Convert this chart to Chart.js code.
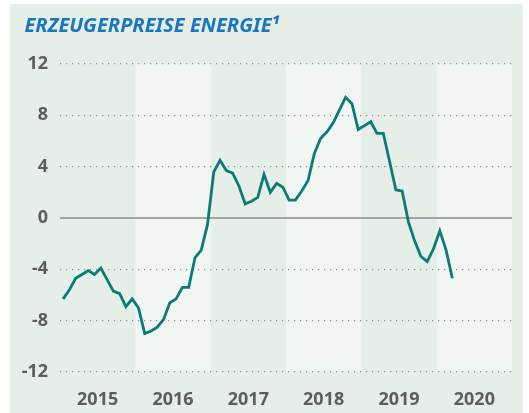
<!DOCTYPE html>
<html>
<head>
<meta charset="utf-8">
<script src="https://cdn.jsdelivr.net/npm/chart.js@4/dist/chart.umd.min.js"></script>
<style>
  html, body { margin: 0; padding: 0; background: #fff; }
  #panel {
    position: absolute; left: 10px; top: 4px;
    width: 513px; height: 409px;
    background: #e5efe8;
  }
</style>
</head>
<body>
<div id="panel"><canvas id="chart" width="513" height="409"></canvas></div>
<script>
// monthly change vs. previous year, Jan 2015 .. Mar 2020
const years = ['2015', '2016', '2017', '2018', '2019', '2020'];
const values2015 = [-6.3, -5.6, -4.7, -4.4, -4.1, -4.4, -3.9, -4.8, -5.7, -5.9, -6.9, -6.3];
const values2016 = [-7.0, -9.0, -8.8, -8.5, -7.9, -6.6, -6.3, -5.4, -5.4, -3.1, -2.5, -0.5];
const values2017 = [3.6, 4.5, 3.7, 3.5, 2.5, 1.1, 1.3, 1.6, 3.4, 2.0, 2.7, 2.4];
const values2018 = [1.4, 1.4, 2.1, 2.9, 5.0, 6.2, 6.7, 7.4, 8.4, 9.4, 8.9, 6.9];
const values2019 = [7.2, 7.5, 6.6, 6.6, 4.4, 2.2, 2.1, -0.3, -1.8, -3.0, -3.4, -2.4];
const values2020 = [-1.0, -2.5, -4.7];
const yTicks = [-12, -8, -4, 0, 4, 8, 12];

const values = [].concat(values2015, values2016, values2017, values2018, values2019, values2020);
const points = values.map((v, i) => ({ x: i + 0.5, y: v }));

const tickFont = { family: 'Noto Sans', size: 18, weight: 'bold' };

// alternating year bands + solid zero line
const bands = {
  id: 'bands',
  beforeDraw(chart) {
    const { ctx, scales: { x, y } } = chart;
    const top = y.getPixelForValue(12);
    const bottom = y.getPixelForValue(-12);
    ctx.save();
    ctx.fillStyle = '#f1f6f2';
    years.forEach((yr, i) => {
      if (i % 2 === 1) {
        const l = x.getPixelForValue(i * 12);
        const r = x.getPixelForValue((i + 1) * 12);
        ctx.fillRect(l, top, r - l, bottom - top);
      }
    });
    ctx.restore();
  },
  beforeDatasetsDraw(chart) {
    const { ctx, chartArea, scales: { y } } = chart;
    const y0 = Math.round(y.getPixelForValue(0));
    ctx.save();
    ctx.strokeStyle = '#a3a6a2';
    ctx.lineWidth = 2;
    ctx.beginPath();
    ctx.moveTo(chartArea.left, y0);
    ctx.lineTo(chartArea.right, y0);
    ctx.stroke();
    ctx.restore();
  }
};

new Chart(document.getElementById('chart'), {
  type: 'line',
  data: {
    datasets: [{
      data: points,
      borderColor: '#0b7a79',
      borderWidth: 2.8,
      pointRadius: 0,
      tension: 0,
      fill: false
    }]
  },
  options: {
    responsive: false,
    animation: false,
    layout: { padding: { left: 4, right: 11, top: 0, bottom: 0 } },
    plugins: {
      legend: { display: false },
      tooltip: { enabled: false },
      title: {
        display: true,
        text: '  ERZEUGERPREISE ENERGIE¹',
        align: 'start',
        color: '#1a76bd',
        font: { family: 'Noto Sans', size: 20, weight: 'bold', style: 'italic' },
        padding: { top: 10, bottom: 26 }
      }
    },
    scales: {
      x: {
        type: 'linear',
        min: 0,
        max: years.length * 12,
        grid: { display: false },
        border: { display: false },
        afterBuildTicks(axis) {
          axis.ticks = years.map((yr, i) => ({ value: i * 12 + 6 }));
        },
        afterFit(axis) { axis.height = 41; },
        ticks: {
          autoSkip: false,
          maxRotation: 0,
          padding: 9,
          color: '#5d5d5d',
          font: tickFont,
          callback: (v) => years[(v - 6) / 12]
        }
      },
      y: {
        min: -12,
        max: 12,
        afterBuildTicks(axis) {
          axis.ticks = yTicks.map(v => ({ value: v }));
        },
        afterFit(axis) { axis.width = 46; },
        grid: {
          drawTicks: false,
          lineWidth: 1.2,
          color: (c) => c.tick && c.tick.value === 0 ? 'rgba(0,0,0,0)' : '#8a8d89'
        },
        border: { display: false, dash: [1.2, 4.8] },
        ticks: {
          padding: 12,
          color: '#5d5d5d',
          font: tickFont,
          callback: (v) => String(v)
        }
      }
    }
  },
  plugins: [bands]
});
</script>
</body>
</html>
